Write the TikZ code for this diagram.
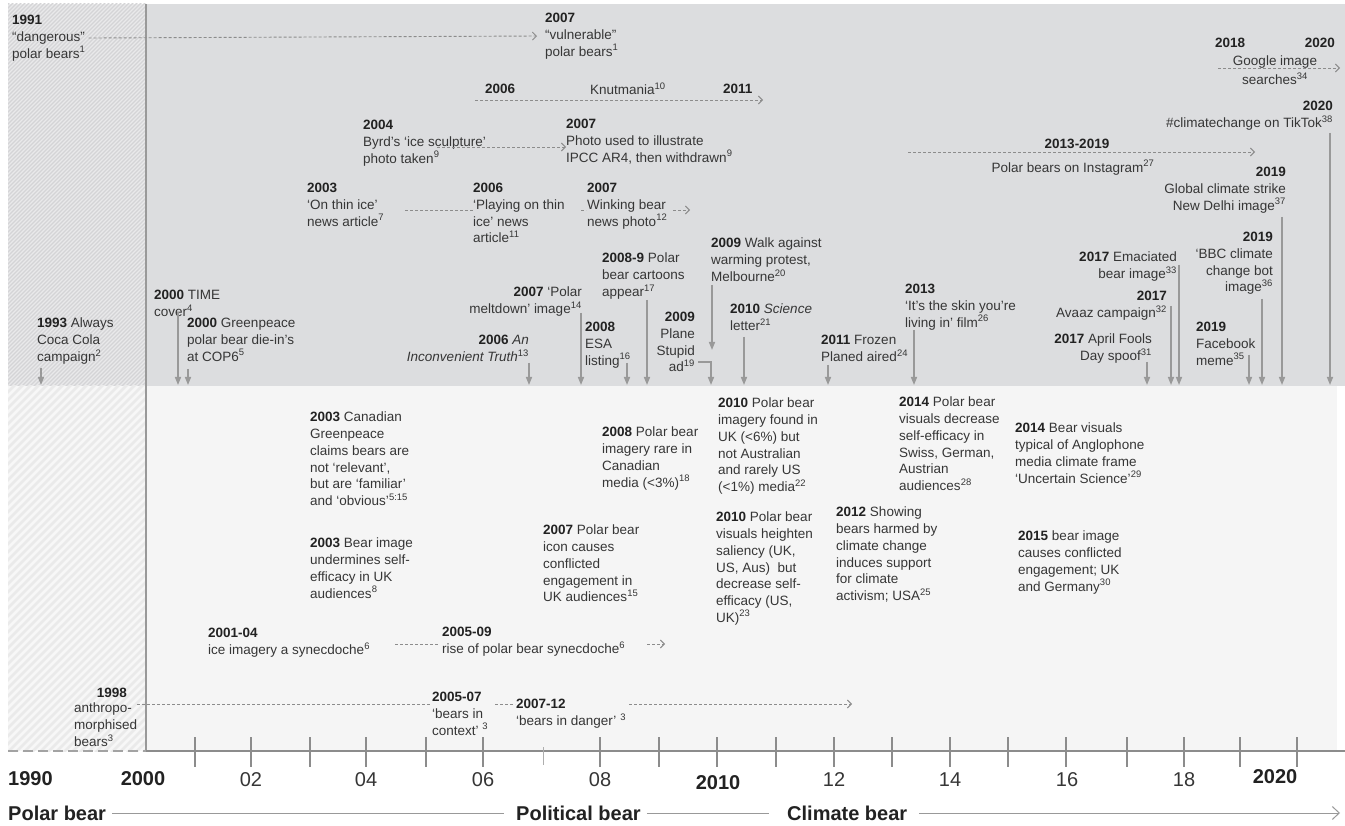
\documentclass[tikz,border=0pt]{standalone}
\usepackage{fontspec}
\setmainfont{Liberation Sans}
\usetikzlibrary{arrows.meta}
\definecolor{topgray}{HTML}{DCDDDF}
\definecolor{lowgray}{HTML}{F5F5F5}
\definecolor{hatchA}{HTML}{E9E9EA}
\definecolor{hatchAs}{HTML}{D4D4D6}
\definecolor{hatchB}{HTML}{F7F7F7}
\definecolor{hatchBs}{HTML}{EAEAEA}
\definecolor{txtc}{HTML}{363636}
\definecolor{yrc}{HTML}{222222}
\definecolor{arrc}{HTML}{999999}
\definecolor{dshc}{HTML}{8C8C8C}
\definecolor{axc}{HTML}{8C8C8C}
\newcommand\yr[1]{{\color{yrc}\bfseries #1}}
\newcommand\rf[1]{\textsuperscript{#1}}
\begin{document}
\begin{tikzpicture}[x=1pt,y=-1pt,
  txt/.style={font=\fontsize{13.5}{16.7}\selectfont, text=txtc, inner sep=0pt, align=left, anchor=north west},
  txtr/.style={txt, align=right, anchor=north east},
  txtc/.style={txt, align=center, anchor=north},
  varr/.style={arrc, line width=1.5pt, -{Triangle[length=8pt,width=6pt]}},
  dline/.style={dshc, line width=0.9pt, dash pattern=on 3pt off 2pt},
  darr/.style={dline, -{Straight Barb[length=4pt,width=8pt]}},
  ylab/.style={font=\fontsize{20}{24}\selectfont, text=txtc, inner sep=0pt},
  ylabb/.style={ylab, font=\fontsize{20}{24}\selectfont\bfseries, text=yrc},
  era/.style={font=\fontsize{20}{24}\selectfont\bfseries, text=yrc, inner sep=0pt},
  eraline/.style={arrc, line width=1pt},
  tickline/.style={axc, line width=2pt}]
\useasboundingbox (0,0) rectangle (1345,826);
\fill[white] (0,0) rectangle (1345,826);
% panels
\fill[topgray] (146,4) rectangle (1345,386);
\fill[lowgray] (146,386) rectangle (1337,751);
\fill[hatchA] (8,4) rectangle (146,386);
\fill[hatchB] (8,386) rectangle (146,751);
\begin{scope}
\clip (8,4) rectangle (146,386);
\foreach \a in {-800,-796,...,150} \draw[hatchAs, line width=1.4pt] (\a,800) -- (\a+800,0);
\end{scope}
\begin{scope}
\clip (8,386) rectangle (146,751);
\foreach \a in {-800,-792,...,150} \draw[hatchBs, line width=2.5pt] (\a,800) -- (\a+800,0);
\end{scope}
\draw[arrc, line width=1.5pt] (146,4) -- (146,751);

% axis
\draw[axc, line width=2.5pt] (146,751) -- (1345,751);
\draw[axc!80, line width=1.5pt, dash pattern=on 10pt off 5pt] (8,751) -- (146,751);
\foreach \x in {195,251,310,366,426,483,600,659,717,776,834,892,950,1008,1066,1127,1184,1240,1297}
  \draw[tickline] (\x,737) -- (\x,767);
\draw[axc!70, line width=1pt] (543,747) -- (543,765);

% year labels
\node[ylabb, anchor=west] (y1990) at (8,779) {1990};
\node[ylabb] (y2000) at (143,779) {2000};
\node[ylab] (y02) at (251,780) {02};
\node[ylab] (y04) at (366,780) {04};
\node[ylab] (y06) at (483,780) {06};
\node[ylab] (y08) at (600,780) {08};
\node[ylabb] (y2010) at (718,783) {2010};
\node[ylab] (y12) at (834,780) {12};
\node[ylab] (y14) at (950,780) {14};
\node[ylab] (y16) at (1067,780) {16};
\node[ylab] (y18) at (1184,780) {18};
\node[ylabb] (y2020) at (1275,777) {2020};

% eras
\node[era, anchor=west] (pb) at (8,813) {Polar bear};
\node[era, anchor=west] (pol) at (516,813) {Political bear};
\node[era, anchor=west] (cb) at (787,813) {Climate bear};
\coordinate (eraend) at (1340,813);
\draw[eraline] ([xshift=6pt]pb.east) -- ([xshift=-12pt]pol.west);
\draw[eraline] ([xshift=6pt]pol.east) -- ([xshift=-18pt]cb.west);
\draw[eraline, -{Straight Barb[length=7pt,width=13pt]}] ([xshift=12pt]cb.east) -- (eraend);

% ---------- top panel ----------
\node[txt] (n1991) at (12,15) {\yr{1991}\\“dangerous”\\polar bears\rf{1}};
\node[txt] (n2007v) at (545,13) {\yr{2007}\\“vulnerable”\\polar bears\rf{1}};
\draw[darr] ([xshift=3pt]n1991.east) -- ([xshift=-8pt]n2007v.west);

\node[txt, anchor=west] (kn1) at (485,89) {\yr{2006}};
\node[txt, anchor=west] (knut) at (590,89) {Knutmania\rf{10}};
\node[txt, anchor=west] (kn2) at (723,89) {\yr{2011}};
\coordinate (k1) at (475,100);
\coordinate (k2) at (763,100);
\draw[darr] (k1) -- (k2);

\node[txt] (byrd) at (363,120) {\yr{2004}\\Byrd’s ‘ice sculpture’\\photo taken\rf{9}};
\node[txt] (ipcc) at (566,119) {\yr{2007}\\Photo used to illustrate\\IPCC AR4, then withdrawn\rf{9}};
\coordinate (b1) at (437,147);
\draw[darr] (b1) -- (ipcc.west |- b1);

\node[txt] (thin) at (307,183) {\yr{2003}\\‘On thin ice’\\news article\rf{7}};
\node[txt] (playing) at (473,183) {\yr{2006}\\‘Playing on thin\\ice’ news\\article\rf{11}};
\node[txt] (winking) at (587,183) {\yr{2007}\\Winking bear\\news photo\rf{12}};
\coordinate (w1) at (405,210);
\coordinate (w2) at (581,210);
\coordinate (w3) at (673,210);
\coordinate (w4) at (690,210);
\draw[dline] (w1) -- (playing.west |- w1);
\draw[dline] (w2) -- ([xshift=-1pt]winking.west |- w2);
\draw[darr] (w3) -- (w4);

\node[txt] (cartoons) at (602,253) {\yr{2008-9} Polar\\bear cartoons\\appear\rf{17}};
\draw[varr] (647,300) -- (647,385);
\node[txt] (walk) at (711,238) {\yr{2009} Walk against\\warming protest,\\Melbourne\rf{20}};
\draw[varr] (712,285) -- (712,350);
\node[txtr] (meltdown) at (582,287) {\yr{2007} ‘Polar\\meltdown’ image\rf{14}};
\draw[varr] (581,313) -- (581,385);
\node[txtr] (truth) at (529,335) {\yr{2006} \textit{An}\\\textit{Inconvenient Truth}\rf{13}};
\draw[varr] (529,363) -- (529,385);
\node[txt] (esa) at (585,322) {\yr{2008}\\ESA\\listing\rf{16}};
\draw[varr] (627,363) -- (627,385);
\node[txtr] (plane) at (695,312) {\yr{2009}\\Plane\\Stupid\\ad\rf{19}};
\draw[varr] (698,362) -- (711,362) -- (711,385);
\node[txt] (science) at (730,304) {\yr{2010} \textit{Science}\\letter\rf{21}};
\draw[varr] (744,337) -- (744,385);
\node[txt] (frozen) at (821,335) {\yr{2011} Frozen\\Planed aired\rf{24}};
\draw[varr] (828,365) -- (828,385);
\node[txt] (skin) at (905,284) {\yr{2013}\\‘It’s the skin you’re\\living in’ film\rf{26}};
\draw[varr] (914,330) -- (914,385);
\node[txtr] (fools) at (1152,334) {\yr{2017} April Fools\\Day spoof\rf{31}};
\draw[varr] (1147,362) -- (1147,385);
\node[txtr] (avaaz) at (1167,291) {\yr{2017}\\Avaaz campaign\rf{32}};
\draw[varr] (1171,306) -- (1171,385);
\node[txtr] (emac) at (1177,252) {\yr{2017} Emaciated\\bear image\rf{33}};
\draw[varr] (1179,265) -- (1179,385);
\node[txtr] (bbc) at (1273,232) {\yr{2019}\\‘BBC climate\\change bot\\image\rf{36}};
\draw[varr] (1262,299) -- (1262,385);
\node[txt] (facebook) at (1196,322) {\yr{2019}\\Facebook\\meme\rf{35}};
\draw[varr] (1249,355) -- (1249,385);
\node[txtr] (delhi) at (1286,167) {\yr{2019}\\Global climate strike\\New Delhi image\rf{37}};
\draw[varr] (1282,217) -- (1282,385);
\node[txtr] (tiktok) at (1333,101) {\yr{2020}\\\#climatechange on TikTok\rf{38}};
\draw[varr] (1330,133) -- (1330,385);

\node[txt, anchor=west] (g2018) at (1215,43) {\yr{2018}};
\node[txt, anchor=east] (g2020) at (1335,43) {\yr{2020}};
\node[txtc] (google) at (1275,56) {Google image\\[2pt]searches\rf{34}};
\coordinate (g1) at (1218,68);
\coordinate (g2) at (1340,68);
\draw[darr] (g1) -- (g2);

\node[txtc] (insta1) at (1077,139) {\yr{2013-2019}};
\node[txtc] (insta2) at (1073,160) {Polar bears on Instagram\rf{27}};
\coordinate (i1) at (908,152);
\coordinate (i2) at (1255,152);
\draw[darr] (i1) -- (i2);

\node[txt] (coca) at (37,318) {\yr{1993} Always\\Coca Cola\\campaign\rf{2}};
\draw[varr] (41,368) -- (41,385);
\node[txt] (time) at (154,290) {\yr{2000} TIME\\cover\rf{4}};
\draw[varr] (178,312) -- (178,385);
\node[txt] (gp) at (187,318) {\yr{2000} Greenpeace\\polar bear die-in’s\\at COP6\rf{5}};
\draw[varr] (188,369) -- (188,385);

% ---------- lower panel ----------
\node[txt] (canadian) at (310,412) {\yr{2003} Canadian\\Greenpeace\\claims bears are\\not ‘relevant’,\\but are ‘familiar’\\and ‘obvious’\rf{5:15}};
\node[txt] (undermine) at (310,538) {\yr{2003} Bear image\\undermines self-\\efficacy in UK\\audiences\rf{8}};
\node[txt] (syn1) at (208,628) {\yr{2001-04}\\ice imagery a synecdoche\rf{6}};
\node[txt] (syn2) at (442,627) {\yr{2005-09}\\rise of polar bear synecdoche\rf{6}};
\coordinate (s1) at (395,644);
\coordinate (s2) at (647,644);
\coordinate (s3) at (665,644);
\draw[dline] (s1) -- ([xshift=-3pt]syn2.west |- s1);
\draw[darr] (s2) -- (s3);

\node[txt, anchor=north east] (n1998) at (127,688) {\yr{1998}};
\node[txt] (anthro) at (74,703) {anthropo-\\morphised\\bears\rf{3}};
\node[txt] (context) at (432,692) {\yr{2005-07}\\‘bears in\\context’ \rf{3}};
\node[txt] (danger) at (516,699) {\yr{2007-12}\\‘bears in danger’ \rf{3}};
\coordinate (d1) at (137,704);
\coordinate (d2) at (495,704);
\coordinate (d3) at (629,704);
\coordinate (d4) at (852,704);
\draw[dline] (d1) -- ([xshift=-2pt]context.west |- d1);
\draw[dline] (d2) -- ([xshift=-1pt]danger.west |- d2);
\draw[darr] (d3) -- (d4);

\node[txt] (conflicted) at (543,525) {\yr{2007} Polar bear\\icon causes\\conflicted\\engagement in\\UK audiences\rf{15}};
\node[txt] (rare) at (602,427) {\yr{2008} Polar bear\\imagery rare in\\Canadian\\media (<3\%)\rf{18}};
\node[txt] (found) at (718,398) {\yr{2010} Polar bear\\imagery found in\\UK (<6\%) but\\not Australian\\and rarely US\\(<1\%) media\rf{22}};
\node[txt] (heighten) at (716,512) {\yr{2010} Polar bear\\visuals heighten\\saliency (UK,\\US, Aus)~ but\\decrease self-\\efficacy (US,\\UK)\rf{23}};
\node[txt] (showing) at (836,507) {\yr{2012} Showing\\bears harmed by\\climate change\\induces support\\for climate\\activism; USA\rf{25}};
\node[txt] (decrease) at (899,397) {\yr{2014} Polar bear\\visuals decrease\\self-efficacy in\\Swiss, German,\\Austrian\\audiences\rf{28}};
\node[txt] (anglo) at (1015,423) {\yr{2014} Bear visuals\\typical of Anglophone\\media climate frame\\‘Uncertain Science’\rf{29}};
\node[txt] (g2015) at (1018,531) {\yr{2015} bear image\\causes conflicted\\engagement; UK\\and Germany\rf{30}};
\end{tikzpicture}
\end{document}
